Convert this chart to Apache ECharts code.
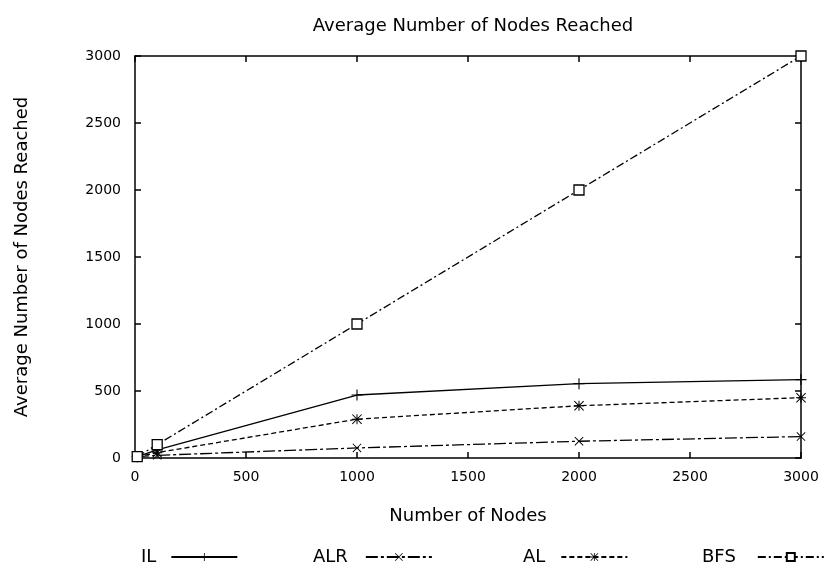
<!DOCTYPE html>
<html>
<head>
    <title>Average Number of Nodes Reached</title>
    <meta charset="utf-8">
    <script type="text/javascript" src="https://cdn.jsdelivr.net/npm/echarts@6/dist/echarts.min.js"></script>
</head>
<body style="margin:0">
<div id="chartmain" style="width:830px; height:572px;"></div>
<script type="text/javascript">
// x values (number of nodes) and the four series
var nodes = [10, 100, 1000, 2000, 3000];
var il  = [10, 60, 470, 555, 585];
var alr = [10, 20, 75, 125, 160];
var al  = [10, 40, 290, 390, 450];
var bfs = [10, 100, 1000, 2000, 3000];
var seriesNames = ['IL', 'ALR', 'AL', 'BFS'];

function pairs(ys) {
    return nodes.map(function (x, i) { return [x, ys[i]]; });
}

var plusPath = 'path://M4.5,0H5.5V10H4.5ZM0,4.5H10V5.5H0Z';
var crossPath = 'path://M0.7,0L10,9.3L9.3,10L0,0.7ZM9.3,0L10,0.7L0.7,10L0,9.3Z';
var starPath = 'path://M4.5,0H5.5V10H4.5ZM0,4.5H10V5.5H0ZM0.7,0L10,9.3L9.3,10L0,0.7ZM9.3,0L10,0.7L0.7,10L0,9.3Z';

var font = 'DejaVu Sans';
var txt = {fontFamily: font, fontSize: 18, color: '#000'};
var axisBase = {
    type: 'value', min: 0, max: 3000, interval: 500,
    axisLine: {show: true, onZero: false, lineStyle: {color: '#000', width: 1.5}},
    axisTick: {show: true, inside: true, length: 6, lineStyle: {color: '#000', width: 1.5}},
    splitLine: {show: false}
};

function mkSeries(name, ys, symbol, dash, size) {
    return {
        name: name, type: 'line', data: pairs(ys),
        symbol: symbol, symbolSize: size, showAllSymbol: true,
        itemStyle: {color: '#000'},
        lineStyle: {color: '#000', width: 1.3, type: dash},
        emphasis: {disabled: true}
    };
}

var bfsSeries = mkSeries('BFS', bfs, 'rect', [8, 3, 2, 3], 10);
bfsSeries.itemStyle = {color: '#fff', borderColor: '#000', borderWidth: 1.3};

// one legend box per entry, so each can sit where the reference has it
var legendLeft = [136, 308, 518, 697];
var legendPad = [10, 13, 11, 17];
var legends = seriesNames.map(function (n, i) {
    return {
        data: [n], left: legendLeft[i], top: 543, align: 'right',
        itemWidth: 66, itemHeight: 10,
        textStyle: {fontFamily: font, fontSize: 18, color: '#000', padding: [0, legendPad[i], 0, 0]}
    };
});

var option = {
    animation: false,
    backgroundColor: '#fff',
    textStyle: {fontFamily: font, color: '#000'},
    title: {
        text: 'Average Number of Nodes Reached',
        left: 468, top: 12, textAlign: 'center',
        textStyle: {fontFamily: font, fontSize: 18, fontWeight: 'normal', color: '#000'}
    },
    legend: legends,
    grid: {left: 135, right: 29, top: 56, bottom: 114},
    xAxis: [
        Object.assign({}, axisBase, {
            name: 'Number of Nodes', nameLocation: 'middle', nameGap: 49,
            nameTextStyle: txt,
            axisLabel: {fontFamily: font, fontSize: 14, color: '#000', margin: 12,
                formatter: function (v) { return String(v); }}
        }),
        Object.assign({}, axisBase, {position: 'top', axisLabel: {show: false}})
    ],
    yAxis: [
        Object.assign({}, axisBase, {
            name: 'Average Number of Nodes Reached', nameLocation: 'middle', nameGap: 104,
            nameTextStyle: txt,
            axisLabel: {fontFamily: font, fontSize: 14, color: '#000', margin: 14,
                formatter: function (v) { return String(v); }}
        }),
        Object.assign({}, axisBase, {position: 'right', axisLabel: {show: false}})
    ],
    series: [
        mkSeries('IL', il, plusPath, 'solid', 11),
        mkSeries('ALR', alr, crossPath, [12, 3, 3, 3], 9),
        mkSeries('AL', al, starPath, [5, 3], 10),
        bfsSeries
    ]
};

var myChart = echarts.init(document.getElementById('chartmain'));
myChart.setOption(option);
</script>
</body>
</html>
